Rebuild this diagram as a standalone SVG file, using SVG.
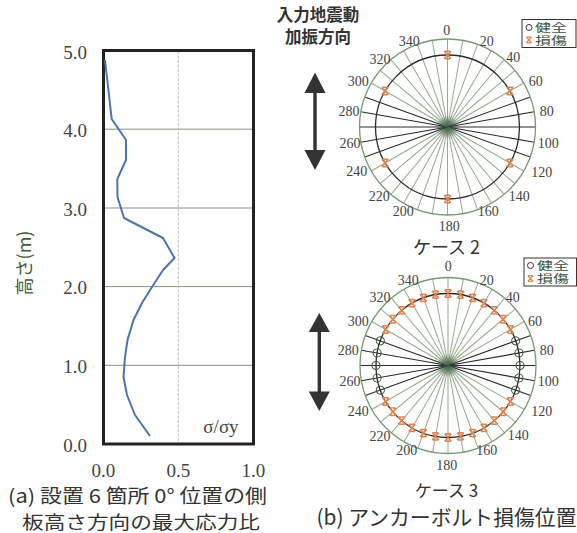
<svg xmlns="http://www.w3.org/2000/svg" xmlns:xlink="http://www.w3.org/1999/xlink" width="577" height="533" viewBox="0 0 577 533">
<style>
.num{font-family:"Liberation Serif","DejaVu Serif",serif;fill:#444}
.tick{font-size:19px}
.ang{font-size:14px;text-anchor:middle;dominant-baseline:central}
.jp{font-family:"Noto Sans CJK JP","Noto Sans",sans-serif;fill:#333}
.sp{stroke:#93ac8a;stroke-width:1;fill:none}
.spd{stroke:#2b2b2b;stroke-width:1.1;fill:none}
.ring{stroke:#789a70;stroke-width:1.3;fill:none}
.dring{stroke:#2b2b2b;stroke-width:1.3;fill:none}
.leg{font-family:"Noto Sans CJK JP",sans-serif;font-size:11px;fill:#3a533a}
.arrow{fill:#333}
</style>
<defs>
<g id="xm"><path d="M-3.4,-3.7 L3.4,3.7 M3.4,-3.7 L-3.4,3.7 M-2.6,-3.7 L2.6,-3.7 M-2.6,3.7 L2.6,3.7" stroke="#e3834f" stroke-width="1.5" fill="none"/></g>
<g id="om"><circle r="4" fill="none" stroke="#3a5a3a" stroke-width="1.1"/></g>
<radialGradient id="hub"><stop offset="0" stop-color="#2f4a3a" stop-opacity="0.85"/><stop offset="1" stop-color="#2f4a3a" stop-opacity="0"/></radialGradient>
<g id="spokes">
<line class="sp" x2="0" y2="-88" transform="rotate(0)"/><line class="sp" x2="0" y2="-88" transform="rotate(10)"/><line class="sp" x2="0" y2="-88" transform="rotate(20)"/><line class="sp" x2="0" y2="-88" transform="rotate(30)"/><line class="sp" x2="0" y2="-88" transform="rotate(40)"/><line class="sp" x2="0" y2="-88" transform="rotate(50)"/><line class="sp" x2="0" y2="-88" transform="rotate(60)"/>
<line class="spd" x2="0" y2="-88" transform="rotate(70)"/><line class="spd" x2="0" y2="-88" transform="rotate(80)"/><line class="spd" x2="0" y2="-88" transform="rotate(90)"/><line class="spd" x2="0" y2="-88" transform="rotate(100)"/><line class="spd" x2="0" y2="-88" transform="rotate(110)"/>
<line class="sp" x2="0" y2="-88" transform="rotate(120)"/><line class="sp" x2="0" y2="-88" transform="rotate(130)"/><line class="sp" x2="0" y2="-88" transform="rotate(140)"/><line class="sp" x2="0" y2="-88" transform="rotate(150)"/><line class="sp" x2="0" y2="-88" transform="rotate(160)"/><line class="sp" x2="0" y2="-88" transform="rotate(170)"/><line class="sp" x2="0" y2="-88" transform="rotate(180)"/><line class="sp" x2="0" y2="-88" transform="rotate(190)"/><line class="sp" x2="0" y2="-88" transform="rotate(200)"/><line class="sp" x2="0" y2="-88" transform="rotate(210)"/><line class="sp" x2="0" y2="-88" transform="rotate(220)"/><line class="sp" x2="0" y2="-88" transform="rotate(230)"/><line class="sp" x2="0" y2="-88" transform="rotate(240)"/>
<line class="spd" x2="0" y2="-88" transform="rotate(250)"/><line class="spd" x2="0" y2="-88" transform="rotate(260)"/><line class="spd" x2="0" y2="-88" transform="rotate(270)"/><line class="spd" x2="0" y2="-88" transform="rotate(280)"/><line class="spd" x2="0" y2="-88" transform="rotate(290)"/>
<line class="sp" x2="0" y2="-88" transform="rotate(300)"/><line class="sp" x2="0" y2="-88" transform="rotate(310)"/><line class="sp" x2="0" y2="-88" transform="rotate(320)"/><line class="sp" x2="0" y2="-88" transform="rotate(330)"/><line class="sp" x2="0" y2="-88" transform="rotate(340)"/><line class="sp" x2="0" y2="-88" transform="rotate(350)"/>
<circle class="ring" r="88"/>
<circle class="dring" r="72"/>
<circle r="12" fill="url(#hub)"/>
</g>
</defs>

<!-- (a) chart -->
<g id="chart-a">
<rect x="103.5" y="50.5" width="150" height="393.5" fill="#fff" stroke="none"/>
<g stroke="#8a9282" stroke-width="1">
<line x1="104" y1="129.2" x2="253" y2="129.2"/>
<line x1="104" y1="208" x2="253" y2="208"/>
<line x1="104" y1="286.6" x2="253" y2="286.6"/>
<line x1="104" y1="365.3" x2="253" y2="365.3"/>
</g>
<line x1="178.3" y1="51" x2="178.3" y2="443" stroke="#b9c2b0" stroke-width="1" stroke-dasharray="3 1.5"/>
<rect x="103.5" y="50.5" width="150" height="393.5" fill="none" stroke="#222" stroke-width="3"/>
<polyline fill="none" stroke="#4a76b0" stroke-width="2" stroke-linejoin="round" points="105,60 111.7,119 126,140 126,160 117.3,179 117.5,197 124,218 163,238 174.5,258 163,270 152,287 142,303 133.5,320 127.5,340 125,357 123.5,377 127,395 135,415 150,436"/>
<g class="num tick" text-anchor="end">
<text x="87" y="59">5.0</text>
<text x="87" y="137">4.0</text>
<text x="87" y="216">3.0</text>
<text x="87" y="294">2.0</text>
<text x="87" y="373">1.0</text>
<text x="87" y="452">0.0</text>
</g>
<g class="num tick" text-anchor="middle">
<text x="103.3" y="477">0.0</text>
<text x="178.3" y="477">0.5</text>
<text x="253.3" y="477">1.0</text>
</g>
<text class="num" x="221" y="433" font-size="19" text-anchor="middle">σ/σy</text>
<text x="0" y="0" transform="translate(31,263) rotate(-90)" text-anchor="middle" font-family="Noto Sans CJK JP, sans-serif" font-size="18" fill="#3f5f35">高さ(m)</text>
<text class="jp" x="8" y="503" font-size="19" textLength="259" lengthAdjust="spacingAndGlyphs">(a) 設置 6 箇所 0°  位置の側</text>
<text class="jp" x="22" y="528.5" font-size="18" textLength="238" lengthAdjust="spacingAndGlyphs">板高さ方向の最大応力比</text>
</g>

<!-- title -->
<g id="title">
<text class="jp" x="318" y="21" font-size="16.5" font-weight="bold" text-anchor="middle">入力地震動</text>
<text class="jp" x="318" y="43" font-size="16.5" font-weight="bold" text-anchor="middle">加振方向</text>
</g>

<!-- case 2 -->
<g id="arrow-case2" class="arrow">
<path d="M315,72.5 L325.5,93 L304.5,93 Z"/>
<rect x="313.3" y="92" width="3.4" height="59"/>
<path d="M315,170 L325.5,150 L304.5,150 Z"/>
</g>
<g id="polar-case2">
<use xlink:href="#spokes" transform="translate(447.5,127)"/>
<g transform="translate(447.5,127)">
<use xlink:href="#xm" transform="translate(0,-72)"/>
<use xlink:href="#xm" transform="translate(62.4,-36)"/>
<use xlink:href="#xm" transform="translate(62.4,36)"/>
<use xlink:href="#xm" transform="translate(0,72)"/>
<use xlink:href="#xm" transform="translate(-62.4,36)"/>
<use xlink:href="#xm" transform="translate(-62.4,-36)"/>
</g>
<g class="num ang">
<text x="446.7" y="30.7">0</text>
<text x="486.7" y="41.7">20</text>
<text x="513.3" y="57.3">40</text>
<text x="535.7" y="81.7">60</text>
<text x="546.7" y="111.7">80</text>
<text x="548.3" y="143.3">100</text>
<text x="541.7" y="172.7">120</text>
<text x="519.3" y="196.7">140</text>
<text x="488.3" y="211.7">160</text>
<text x="449.3" y="226.7">180</text>
<text x="403.3" y="211.7">200</text>
<text x="379.3" y="196.7">220</text>
<text x="356.7" y="171.7">240</text>
<text x="350" y="143.3">260</text>
<text x="349" y="111.7">280</text>
<text x="358.3" y="81.7">300</text>
<text x="380" y="59">320</text>
<text x="409.3" y="41.7">340</text>
</g>
<text class="jp" x="446.5" y="254" font-size="18" text-anchor="middle">ケース 2</text>
</g>
<g id="legend-case2">
<rect x="522" y="19.5" width="54" height="28" fill="#fff" stroke="#333" stroke-width="1"/>
<circle cx="529" cy="27.5" r="3" fill="none" stroke="#333" stroke-width="1"/>
<use xlink:href="#xm" transform="translate(529,40) scale(0.8)"/>
<text class="leg" x="535" y="31.5" textLength="32" lengthAdjust="spacingAndGlyphs">健全</text>
<text class="leg" x="535" y="44.5" textLength="32" lengthAdjust="spacingAndGlyphs">損傷</text>
</g>

<!-- case 3 -->
<g id="arrow-case3" class="arrow">
<path d="M319.3,313 L329.8,332 L308.8,332 Z"/>
<rect x="317.6" y="331" width="3.4" height="61.5"/>
<path d="M319.3,411 L329.8,391.5 L308.8,391.5 Z"/>
</g>
<g id="polar-case3">
<use xlink:href="#spokes" transform="translate(448,365.5)"/>
<g transform="translate(448,365.5)">
<use xlink:href="#xm" transform="rotate(0) translate(0,-72) rotate(0)"/>
<use xlink:href="#xm" transform="rotate(10) translate(0,-72) rotate(-10)"/>
<use xlink:href="#xm" transform="rotate(20) translate(0,-72) rotate(-20)"/>
<use xlink:href="#xm" transform="rotate(30) translate(0,-72) rotate(-30)"/>
<use xlink:href="#xm" transform="rotate(40) translate(0,-72) rotate(-40)"/>
<use xlink:href="#xm" transform="rotate(50) translate(0,-72) rotate(-50)"/>
<use xlink:href="#xm" transform="rotate(60) translate(0,-72) rotate(-60)"/>
<use xlink:href="#om" transform="rotate(70) translate(0,-72)"/>
<use xlink:href="#om" transform="rotate(80) translate(0,-72)"/>
<use xlink:href="#om" transform="rotate(90) translate(0,-72)"/>
<use xlink:href="#om" transform="rotate(100) translate(0,-72)"/>
<use xlink:href="#om" transform="rotate(110) translate(0,-72)"/>
<use xlink:href="#xm" transform="rotate(120) translate(0,-72) rotate(-120)"/>
<use xlink:href="#xm" transform="rotate(130) translate(0,-72) rotate(-130)"/>
<use xlink:href="#xm" transform="rotate(140) translate(0,-72) rotate(-140)"/>
<use xlink:href="#xm" transform="rotate(150) translate(0,-72) rotate(-150)"/>
<use xlink:href="#xm" transform="rotate(160) translate(0,-72) rotate(-160)"/>
<use xlink:href="#xm" transform="rotate(170) translate(0,-72) rotate(-170)"/>
<use xlink:href="#xm" transform="rotate(180) translate(0,-72) rotate(-180)"/>
<use xlink:href="#xm" transform="rotate(190) translate(0,-72) rotate(-190)"/>
<use xlink:href="#xm" transform="rotate(200) translate(0,-72) rotate(-200)"/>
<use xlink:href="#xm" transform="rotate(210) translate(0,-72) rotate(-210)"/>
<use xlink:href="#xm" transform="rotate(220) translate(0,-72) rotate(-220)"/>
<use xlink:href="#xm" transform="rotate(230) translate(0,-72) rotate(-230)"/>
<use xlink:href="#xm" transform="rotate(240) translate(0,-72) rotate(-240)"/>
<use xlink:href="#om" transform="rotate(250) translate(0,-72)"/>
<use xlink:href="#om" transform="rotate(260) translate(0,-72)"/>
<use xlink:href="#om" transform="rotate(270) translate(0,-72)"/>
<use xlink:href="#om" transform="rotate(280) translate(0,-72)"/>
<use xlink:href="#om" transform="rotate(290) translate(0,-72)"/>
<use xlink:href="#xm" transform="rotate(300) translate(0,-72) rotate(-300)"/>
<use xlink:href="#xm" transform="rotate(310) translate(0,-72) rotate(-310)"/>
<use xlink:href="#xm" transform="rotate(320) translate(0,-72) rotate(-320)"/>
<use xlink:href="#xm" transform="rotate(330) translate(0,-72) rotate(-330)"/>
<use xlink:href="#xm" transform="rotate(340) translate(0,-72) rotate(-340)"/>
<use xlink:href="#xm" transform="rotate(350) translate(0,-72) rotate(-350)"/>
</g>
<g class="num ang">
<text x="448.3" y="266.7">0</text>
<text x="486.7" y="280.7">20</text>
<text x="512.7" y="297.3">40</text>
<text x="535" y="321.7">60</text>
<text x="546.7" y="350.7">80</text>
<text x="548.3" y="381.7">100</text>
<text x="541.7" y="411.7">120</text>
<text x="518.3" y="435">140</text>
<text x="486.7" y="450.7">160</text>
<text x="446.7" y="465">180</text>
<text x="406.7" y="450.7">200</text>
<text x="380" y="436">220</text>
<text x="358.3" y="411.7">240</text>
<text x="350" y="381.7">260</text>
<text x="348.3" y="350.7">280</text>
<text x="358.3" y="321.7">300</text>
<text x="380" y="297.3">320</text>
<text x="408.3" y="280.7">340</text>
</g>
<text class="jp" x="446.5" y="496.5" font-size="17" text-anchor="middle">ケース 3</text>
</g>
<g id="legend-case3">
<rect x="524" y="258" width="52.5" height="28" fill="#fff" stroke="#333" stroke-width="1"/>
<circle cx="530.5" cy="265.5" r="3" fill="none" stroke="#333" stroke-width="1"/>
<use xlink:href="#xm" transform="translate(530.5,278.5) scale(0.8)"/>
<text class="leg" x="537" y="269.5" textLength="32" lengthAdjust="spacingAndGlyphs">健全</text>
<text class="leg" x="537" y="282.5" textLength="32" lengthAdjust="spacingAndGlyphs">損傷</text>
</g>
<text class="jp" x="316.5" y="525" font-size="21" textLength="260" lengthAdjust="spacingAndGlyphs">(b) アンカーボルト損傷位置</text>
</svg>
